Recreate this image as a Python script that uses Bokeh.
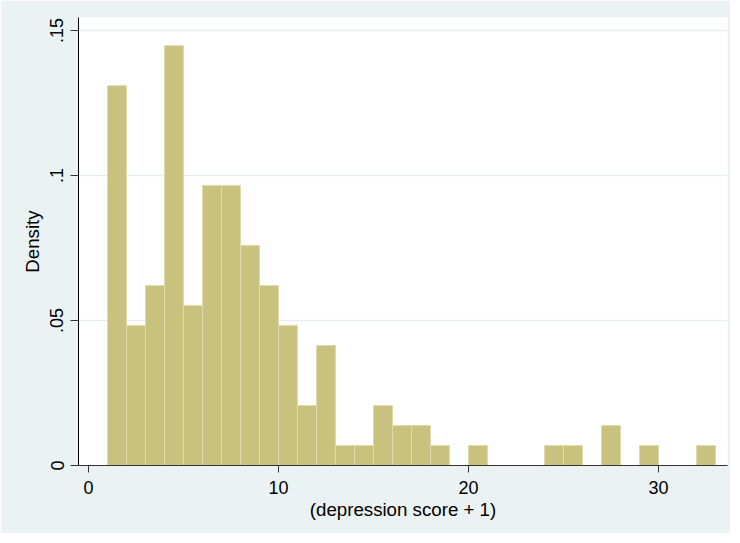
from bokeh.plotting import figure
from bokeh.models import Range1d, FixedTicker, ColumnDataSource
from bokeh.embed import file_html
from bokeh.resources import INLINE

# ---- data (bin width 1) ----
bin_left = [1, 2, 3, 4, 5, 6, 7, 8, 9, 10, 11, 12, 13, 14, 15, 16,
            17, 18, 19, 20, 21, 22, 23, 24, 25, 26, 27, 28, 29, 30, 31, 32]
bin_right = [2, 3, 4, 5, 6, 7, 8, 9, 10, 11, 12, 13, 14, 15, 16, 17,
             18, 19, 20, 21, 22, 23, 24, 25, 26, 27, 28, 29, 30, 31, 32, 33]
density = [0.1310, 0.0483, 0.0621, 0.1448, 0.0552, 0.0966, 0.0966, 0.0759,
           0.0621, 0.0483, 0.0207, 0.0414, 0.0069, 0.0069, 0.0207, 0.0138,
           0.0138, 0.0069, 0.0, 0.0069, 0.0, 0.0, 0.0, 0.0069,
           0.0069, 0.0, 0.0138, 0.0, 0.0069, 0.0, 0.0, 0.0069]
x_ticks = [0, 10, 20, 30]
y_ticks = [0, 0.05, 0.1, 0.15]
y_tick_labels = ["0", ".05", ".1", ".15"]
x_label = "(depression score + 1)"
y_label = "Density"

keep = [i for i, d in enumerate(density) if d > 0]
src = ColumnDataSource(dict(
    left=[bin_left[i] for i in keep],
    right=[bin_right[i] for i in keep],
    top=[density[i] for i in keep],
    bottom=[0.0 for _ in keep],
))

FONT = "Liberation Sans"
BG = "#EAF2F3"

p = figure(width=730, height=533, output_backend="svg", toolbar_location=None,
           x_range=Range1d(-0.526, 33.63), y_range=Range1d(0, 0.1545),
           min_border_left=78, min_border_right=3, min_border_top=17,
           min_border_bottom=68)
p.border_fill_color = BG
p.background_fill_color = "white"
p.outline_line_color = None

p.quad(left="left", right="right", top="top", bottom="bottom", source=src,
       fill_color="#C9C27E", line_color="#E0DAAE", line_width=1)

p.xgrid.visible = False
p.ygrid.grid_line_color = "#E6EEEF"
p.ygrid.grid_line_width = 1.5
p.ygrid.ticker = FixedTicker(ticks=y_ticks[1:])

xa = p.xaxis[0]
xa.ticker = FixedTicker(ticks=x_ticks)
xa.axis_label = x_label
xa.axis_line_color = "#333333"
xa.major_tick_line_color = "#333333"
xa.minor_tick_line_color = None
xa.major_tick_out = 7
xa.major_tick_in = 0
xa.major_label_standoff = 8
xa.axis_label_standoff = 2
xa.major_label_text_font = FONT
xa.major_label_text_font_size = "18px"
xa.major_label_text_color = "black"
xa.axis_label_text_font = FONT
xa.axis_label_text_font_size = "18.7px"
xa.axis_label_text_font_style = "normal"
xa.axis_label_text_color = "black"

ya = p.yaxis[0]
ya.ticker = FixedTicker(ticks=y_ticks)
ya.major_label_overrides = {t: s for t, s in zip(y_ticks, y_tick_labels)}
ya.major_label_orientation = "vertical"
ya.axis_label = y_label
ya.axis_line_color = "black"
ya.major_tick_line_color = "#333333"
ya.minor_tick_line_color = None
ya.major_tick_out = 8
ya.major_tick_in = 0
ya.major_label_standoff = 7
ya.axis_label_standoff = 5
ya.major_label_text_font = FONT
ya.major_label_text_font_size = "18px"
ya.major_label_text_color = "black"
ya.axis_label_text_font = FONT
ya.axis_label_text_font_size = "18.7px"
ya.axis_label_text_font_style = "normal"
ya.axis_label_text_color = "black"

open("out.html", "w").write(file_html(p, INLINE))
